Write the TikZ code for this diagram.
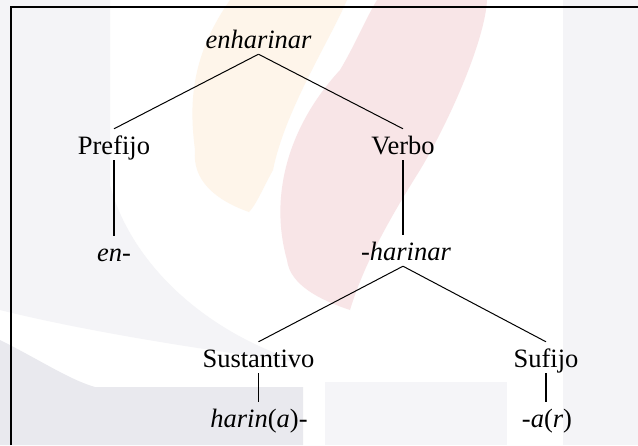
\documentclass[tikz,border=0pt]{standalone}
\usepackage{fontspec}
\setmainfont{Liberation Serif}
\definecolor{wmgray}{HTML}{F4F4F7}
\definecolor{wmgrayb}{HTML}{E9E9EE}
\definecolor{wmgrayc}{HTML}{F5F5F8}
\definecolor{wmorange}{HTML}{FEF5EA}
\definecolor{wmpink}{HTML}{F8E5E7}
\tikzset{
  lab/.style={anchor=base, inner sep=0pt, text height=25pt, text depth=6pt,
    font=\fontsize{26.5}{30}\selectfont},
  edge/.style={draw=black, line width=1pt},
  vedge/.style={draw=black, line width=1.7pt},
}
\begin{document}
\begin{tikzpicture}[x=1pt,y=-1pt]
\useasboundingbox (0,0) rectangle (638,445);
% watermark background
\fill[white] (0,0) rectangle (638,445);
\fill[wmgray] (0,0) -- (110,0) -- (110,185) .. controls (130,260) and (200,330) .. (300,362)
  .. controls (200,350) and (80,330) .. (0,310) -- cycle;
\fill[wmgrayb] (0,340) .. controls (40,360) and (70,380) .. (95,387) -- (303,387) -- (303,445) -- (0,445) -- cycle;
\fill[wmgrayc] (325,382) rectangle (507,445);
\fill[wmgray] (563,0) rectangle (638,445);
\fill[wmorange] (230,0) -- (347,0) .. controls (330,40) and (285,110) .. (273,170)
  .. controls (262,190) and (256,205) .. (249,212)
  .. controls (215,200) and (192,180) .. (195,150)
  .. controls (190,110) and (188,60) .. (230,0) -- cycle;
\fill[wmpink] (377,0) -- (487,0) .. controls (485,40) and (450,120) .. (420,170)
  .. controls (395,210) and (365,260) .. (350,310)
  .. controls (320,300) and (290,285) .. (287,260)
  .. controls (270,200) and (285,130) .. (340,70)
  .. controls (355,45) and (365,20) .. (377,0) -- cycle;
% frame
\draw[line width=2pt] (11,445) -- (11,7) -- (638,7);
% nodes
\node[lab] (top) at (258.5,48) {\itshape enharinar};
\node[lab] (pref) at (114,154) {Prefijo};
\node[lab] (verbo) at (403,154) {Verbo};
\node[lab] (en) at (114,261) {\itshape en-};
\node[lab] (har) at (406,260) {-\textit{harinar}};
\node[lab] (sust) at (258.5,367) {Sustantivo};
\node[lab] (suf) at (546,367) {Sufijo};
\node[lab] (harina) at (259,427) {\textit{harin}(\textit{a})-};
\node[lab] (ar) at (547,427) {-\textit{a}(\textit{r})};
% connectors
\draw[edge] (top.south) -- (pref.north);
\draw[edge] (top.south) -- (verbo.north);
\draw[vedge] (pref.south) -- (pref.south |- en.north);
\draw[vedge] (verbo.south) -- (verbo.south |- har.north);
\coordinate (harap) at (verbo.south |- har.south);
\draw[edge] (harap) -- (sust.north);
\draw[edge] (harap) -- (suf.north);
\draw[vedge] (sust.south) -- (sust.south |- harina.north);
\draw[vedge] (suf.south) -- (suf.south |- ar.north);
\end{tikzpicture}
\end{document}
